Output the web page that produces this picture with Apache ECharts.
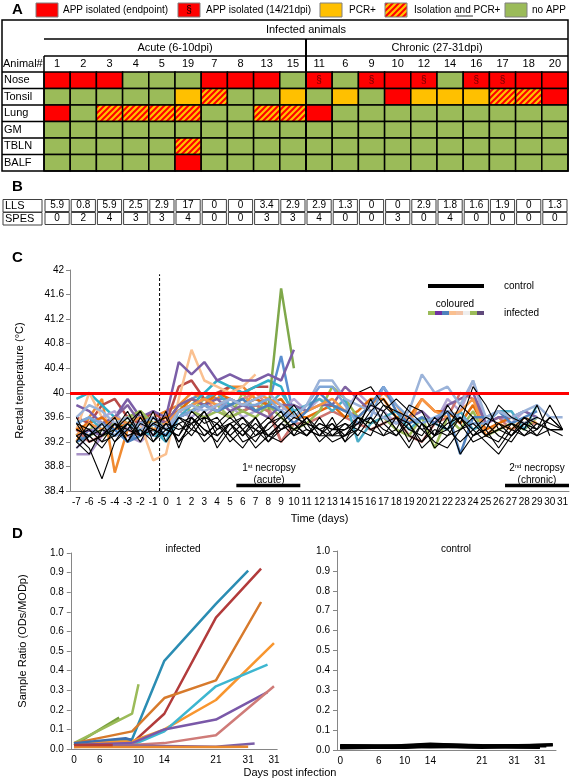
<!DOCTYPE html>
<html><head><meta charset="utf-8">
<script src="https://cdn.jsdelivr.net/npm/echarts@6/dist/echarts.min.js"></script>
<style>html,body{margin:0;padding:0;background:#fff}#c{width:572px;height:780px}</style>
</head><body><div id="c"></div>
<script>
// ---------------- DATA ----------------
const animals = ['1','2','3','4','5','19','7','8','13','15','11','6','9','10','12','14','16','17','18','20'];
const tissues = ['Nose','Tonsil','Lung','GM','TBLN','BALF'];
// 0 no APP, 1 APP isolated (endpoint), 2 APP isolated (14/21dpi), 3 PCR+, 4 isolation and PCR+
const nose   = [1,1,1,0,0,0,1,1,1,0, 2,0,2,1,2,0,2,2,1,1];
const tonsil = [0,0,0,0,0,3,4,0,0,3, 0,3,0,1,3,3,3,4,4,1];
const lung   = [1,0,4,4,4,4,0,0,4,4, 1,0,0,0,0,0,0,0,0,0];
const gm     = [0,0,0,0,0,0,0,0,0,0, 0,0,0,0,0,0,0,0,0,0];
const tbln   = [0,0,0,0,0,4,0,0,0,0, 0,0,0,0,0,0,0,0,0,0];
const balf   = [0,0,0,0,0,1,0,0,0,0, 0,0,0,0,0,0,0,0,0,0];
const scoreRows = ['LLS','SPES'];
const lls  = [5.9,0.8,5.9,2.5,2.9,17,0,0,3.4,2.9, 2.9,1.3,0,0,2.9,1.8,1.6,1.9,0,1.3];
const spes = [0,2,4,3,3,4,0,0,3,3, 4,0,0,3,0,4,0,0,0,0];

const days = ['-7','-6','-5','-4','-3','-2','-1','0','1','2','3','4','5','6','7','8','9','10','11','12','13','14','15','16','17','18','19','20','21','22','23','24','25','26','27','28','29','30','31'];
const tempTicks = {min:38.4, max:42, step:0.4};
// infected, acute group (day -7 .. end)
const a1  = [39.4,40.0,39.6,39.5,39.4,39.5,38.9,39.0,39.9,40.7,40.2,40.1,40.0,40.1,40.3];
const a2  = [39.8,39.7,39.5,39.6,39.9,39.6,39.7,39.6,40.5,40.3,40.5,40.2,40.3,40.2,40.2,40.3,40.2,40.7];
const a3  = [39.3,39.5,39.3,39.4,39.6,39.7,39.4,39.5,39.7,39.9,39.8,39.7,39.8,39.7,39.8,39.7,41.7,40.4];
const a4  = [39.6,39.5,39.8,39.9,39.6,39.5,39.7,39.5,40.1,40.2,39.9,40.0,40.1,40.0,40.1,40.1];
const a5  = [39.9,40.0,39.8,39.6,39.5,39.4,39.3,39.3,39.7,39.8,40.0,40.2,40.1,40.0,40.1,40.2,40.1,39.6];
const a6  = [39.2,39.4,39.3,39.5,39.2,39.4,39.3,39.5,39.8,39.9,40.0,39.9,39.9,39.8,39.9,39.8,40.6,39.6];
const a7  = [39.2,39.6,39.9,38.7,39.4,39.5,39.6,39.7,39.8,40.0,39.9,39.9,40.1,40.1,39.9];
const a8  = [39.4,39.3,39.5,39.3,39.4,39.6,39.5,39.4,39.7,39.8,39.9,39.7,39.8,39.9,40.0,39.8,39.2,39.5];
const a9  = [39.0,39.0,39.3,39.5,39.3,39.2,39.4,39.3,39.6,39.7,39.6,39.8,39.8,39.7,39.8,39.9,39.8,39.7];
const a10 = [39.3,39.4,39.5,39.6,39.5,39.7,39.5,39.5,39.8,39.7,39.9,39.8,39.6,40.0,39.7,39.9];
// infected, chronic group (day -7 .. 31)
const c1  = [39.6,39.8,39.7,39.5,39.6,39.4,39.5,39.4,39.7,39.8,39.7,39.8,39.9,39.8,39.9,40.0,39.8,39.6, 39.8,40.2,40.2,39.9,39.8,39.7,39.6,39.5,39.7,40.3,40.0,40.1,39.8,40.2,39.6,39.7,39.6,39.7,39.8,39.6,39.6];
const c2  = [39.2,39.3,39.5,39.4,39.2,39.3,39.5,39.3,39.6,39.7,39.8,39.7,39.8,39.9,39.7,39.8,39.7,39.5, 39.7,40.0,39.8,39.7,39.6,39.8,40.1,39.7,39.5,39.6,39.5,39.7,39.0,39.6,39.6,39.7,39.5,39.6,39.7];
const c3  = [39.3,39.5,39.4,39.6,39.5,39.6,39.4,39.5,39.7,39.8,39.9,39.8,39.9,39.8,40.0,39.9,39.8,39.6, 39.7,39.8,39.9,39.7,39.6,39.8,40.0,39.8,39.5,39.9,39.7,39.6,39.7,39.9,39.3,39.5,39.4,39.6,39.5];
const c4  = [39.2,39.3,39.4,39.5,39.6,39.7,39.5,39.4,39.6,39.7,39.6,39.7,39.6,39.7,39.6,39.8,39.6,39.4, 39.5,39.7,40.1,39.9,39.6,39.5,39.6,39.4,39.3,39.6,39.1,39.6,39.4,39.7,39.3,39.4,39.5,39.4,39.6];
const c5  = [39.5,39.6,39.4,39.3,39.5,39.6,39.4,39.2,39.6,39.8,39.9,40.0,39.8,39.9,39.7,39.8,40.0,39.7, 39.8,39.9,39.7,39.9,39.2,39.5,39.6,39.7,39.4,39.6,39.5,39.4,39.7,39.4,39.5,39.7,39.7,39.4,39.8];
const c6  = [39.3,39.4,39.3,39.6,39.8,39.5,39.6,39.5,39.8,39.9,39.8,39.9,39.7,39.8,39.7,39.6,39.8,39.8, 39.7,39.8,39.8,40.1,39.9,39.7,39.6,39.5,39.6,39.7,39.5,39.8,39.9,40.0,39.5,39.6,39.6,39.7,39.6];
const c7  = [39.4,39.2,39.3,39.5,39.4,39.3,39.5,39.4,39.6,39.7,39.8,39.7,39.6,39.7,39.8,39.7,39.2,39.5, 39.5,39.6,39.7,39.6,39.5,39.4,39.5,39.6,39.3,39.2,39.5,39.6,40.0,39.9,39.5,39.6,39.4,39.5,39.5];
const c8  = [39.4,39.5,39.6,39.4,39.5,39.6,39.5,39.6,39.7,39.9,39.8,40.0,39.9,39.8,39.9,39.8,39.9,39.6, 39.6,39.7,39.8,39.6,39.7,39.9,39.9,39.6,39.6,39.9,39.7,39.7,39.5,39.8,39.4,39.5,39.6,39.5,39.6];
const c9  = [39.5,39.6,39.5,39.3,39.4,39.5,39.6,39.4,39.6,39.7,39.8,39.7,39.9,39.8,39.8,39.9,39.7,39.6, 39.8,40.1,40.1,39.8,39.5,39.6,40.1,39.8,39.6,39.5,39.6,39.7,39.6,39.5,39.5,39.7,39.6,39.5,39.6];
const c10 = [39.1,39.3,39.6,39.7,39.4,39.5,39.3,39.5,39.7,39.6,39.8,39.7,39.8,39.6,39.7,39.8,39.7,39.9, 39.7,39.9,39.8,39.7,40.0,39.8,39.7,39.5,39.6,39.7,39.5,39.9,39.7,40.2,39.5,39.6,39.5,39.7,39.6];
// controls
const k1  = [39.6,39.2,39.3,39.5,39.2,39.6,39.3,39.7,39.1,39.6,39.4,39.2,39.5,39.3,39.6,39.2,39.5,39.3,39.6,39.3,39.5,39.2,39.6,39.4,39.3,39.6,39.2,39.5,39.3,39.6,39.0,39.3,39.4,39.1,39.4,39.3,39.5,39.4,39.4];
const k2  = [39.3,39.1,38.6,39.2,39.5,39.3,39.7,39.2,39.5,39.6,39.3,39.5,39.2,39.4,39.6,39.3,39.5,39.7,39.4,39.3,39.6,39.2,39.4,39.7,39.9,39.6,39.5,39.2,39.4,39.3,39.6,39.4,39.2,39.0,39.3,39.5,39.3,39.6,39.4];
const k3  = [39.2,39.0,39.4,39.6,39.2,39.5,39.4,39.3,39.6,39.4,39.7,39.3,39.5,39.2,39.3,39.5,39.6,39.4,39.3,39.5,39.4,39.6,40.0,40.1,39.8,39.6,39.3,39.2,39.5,39.7,39.5,40.1,39.8,39.4,39.5,39.3,39.4];
const k4  = [39.4,39.3,39.1,39.4,39.7,39.3,39.5,39.6,39.2,39.5,39.6,39.1,39.4,39.6,39.3,39.4,39.6,39.8,39.5,39.4,39.2,39.3,39.5,39.8,39.7,39.4,39.1,39.5,39.3,39.8,39.5,39.2,39.3,39.4,39.5,39.4,39.8,39.3];
const k5  = [39.5,39.4,39.2,39.3,39.5,39.2,39.6,39.4,39.3,39.7,39.5,39.6,39.3,39.1,39.4,39.6,39.4,39.5,39.3,39.6,39.3,39.3,39.4,39.9,39.5,39.3,39.6,39.4,39.5,39.4,39.8,39.6,39.3,39.2,39.5,39.4,39.3,39.4,39.4];
const k6  = [39.1,39.3,39.5,39.2,39.4,39.7,39.3,39.5,39.2,39.4,39.3,39.5,39.7,39.4,39.1,39.3,39.2,39.4,39.5,39.2,39.4,39.5,39.3,39.6,39.4,39.3,39.5,39.1,39.3,39.4,39.6,39.3,39.5,39.3,39.2,39.5,39.6,39.5,39.4];
const k7  = [39.3,39.4,39.2,39.5,39.3,39.4,39.2,39.4,39.5,39.3,39.6,39.5,39.3,39.5,39.4,39.2,39.4,39.6,39.5,39.4,39.3,39.4,39.6,39.5,39.8,39.7,39.6,39.4,39.2,39.1,39.4,39.6,39.3,39.5,39.4,39.6,39.5,39.4,39.3];
const k8  = [39.2,39.5,39.3,39.4,39.6,39.3,39.4,39.3,39.6,39.5,39.2,39.4,39.6,39.4,39.2,39.5,39.7,39.3,39.4,39.3,39.3,39.5,39.4,39.3,39.7,39.9,39.7,39.5,39.1,39.3,39.4,39.5,39.3,39.4,39.3,39.6,39.4];
const k9  = [39.4,39.3,39.4,39.3,39.5,39.7,39.2,39.5,39.4,39.5,39.7,39.4,39.5,39.3,39.5,39.3,39.4,39.5,39.3,39.5,39.4,39.4,39.5,39.6,39.3,39.4,39.8,39.7,39.3,39.5,39.6,39.3,39.4,39.8,39.6,39.5,39.4,39.8,39.4];
const k10 = [39.5,39.2,39.3,39.5,39.4,39.3,39.5,39.4,39.3,39.6,39.4,39.3,39.5,39.6,39.4,39.3,39.5,39.4,39.6,39.4,39.5,39.3,39.6,39.4,39.5,39.6,39.4,39.3,39.6,39.4,39.2,39.4,39.6,39.5,39.3,39.5,39.4,39.6,39.4];
const necropsy1 = [5.5, 10.5];
const necropsy2 = [26.5, 31.5];
const challengeDay = -0.5;
const threshold = 40;

// panel D: sampling axis (category index, ratio)
const dLabelsInf = ['0','','','','6','','','','','','10','','','','14','','','','','','','','21','','','','','31','','','','31'];
const dLabelsCtl = ['0','','','','','','6','','','','10','','','','14','','','','','','','','21','','','','','31','','','','31','',''];
const dInf = [
  {c:'#77A03C', d:[[0,0.02],[7,0.16]]},
  {c:'#9BBB59', d:[[0,0.03],[9,0.18],[10,0.33]]},
  {c:'#2B8DB3', d:[[0,0.02],[9,0.05],[14,0.45],[22,0.74],[27,0.91]]},
  {c:'#B23B3B', d:[[0,0.02],[9,0.03],[14,0.18],[22,0.67],[29,0.92]]},
  {c:'#D77A2C', d:[[0,0.03],[9,0.09],[14,0.26],[22,0.35],[29,0.75]]},
  {c:'#F8962F', d:[[0,0.03],[9,0.04],[14,0.10],[22,0.25],[31,0.54]]},
  {c:'#3DB6D0', d:[[0,0.02],[9,0.02],[14,0.09],[22,0.32],[30,0.43]]},
  {c:'#7A58A8', d:[[0,0.02],[9,0.03],[14,0.10],[22,0.15],[30,0.29]]},
  {c:'#CF7B78', d:[[0,0.01],[9,0.02],[14,0.03],[22,0.07],[31,0.32]]},
  {c:'#7B5EA7', d:[[0,0.02],[14,0.015],[22,0.012],[28,0.028]]},
  {c:'#E8892E', d:[[0,0.01],[22,0.01],[27,0.012]]},
  {c:'#3C6FB0', d:[[0,0.03],[8,0.055],[9,0.045]]},
  {c:'#B23B3B', d:[[0,0.02],[6,0.02]]}
];
const dCtl = [
  [[0,0.02],[8,0.02],[14,0.03],[22,0.02],[33,0.025]],
  [[0,0.015],[8,0.012],[14,0.02],[22,0.015],[31,0.012]],
  [[0,0.01],[10,0.015],[14,0.025],[22,0.02],[32,0.02]],
  [[0,0.02],[6,0.018],[14,0.015],[22,0.018],[31,0.015]],
  [[0,0.018],[10,0.012],[14,0.02],[22,0.012],[33,0.028]],
  [[0,0.012],[8,0.02],[14,0.018],[22,0.02],[30,0.02]],
  [[0,0.022],[10,0.02],[14,0.028],[22,0.022],[31,0.02]]
];

// ---------------- RENDER ----------------
const FONT = '"Liberation Sans", Arial, sans-serif';
const chart = echarts.init(document.getElementById('c'), null, {renderer:'canvas'});

function makeHatch(){
  const n=6, c=document.createElement('canvas'); c.width=n; c.height=n;
  const g=c.getContext('2d'); g.fillStyle='#FFC000'; g.fillRect(0,0,n,n);
  g.strokeStyle='#FF0000'; g.lineWidth=2; g.beginPath();
  for(let k=-1;k<=1;k++){ g.moveTo(k*n-1, n+1); g.lineTo(k*n+n+1, -1); }
  g.stroke(); return c;
}
const hatch = makeHatch();
const fills = ['#9BBB59','#FF0000','#FF0000','#FFC000',{image:hatch, repeat:'repeat'}];

const statusRows=[nose,tonsil,lung,gm,tbln,balf];
const cellData=[]; statusRows.forEach((row,r)=>row.forEach((s,c)=>cellData.push([c,r,s])));
const scoreData=[]; [lls,spes].forEach((row,r)=>row.forEach((v,c)=>scoreData.push([c,r,v])));

const G=[];
function txt(x,y,text,o={}){ G.push({type:'text', x, y, rotation:o.rot||0, z:10, style:{text, fill:'#000', font:(o.bold?'bold ':'')+(o.size||11)+'px '+FONT, align:o.align||'left', verticalAlign:o.va||'middle', rich:o.rich}}); }
function ln(x1,y1,x2,y2,lw,col){ G.push({type:'line', z:10, shape:{x1,y1,x2,y2}, style:{stroke:col||'#000', lineWidth:lw||1}}); }
function rc(x,y,w,h,fill,stroke,lw){ G.push({type:'rect', z:10, shape:{x,y,width:w,height:h}, style:{fill, stroke, lineWidth:lw||1}}); }

// panel letters
txt(12,10,'A',{bold:true,size:15}); txt(12,187,'B',{bold:true,size:15});
txt(12,258,'C',{bold:true,size:15}); txt(12,534,'D',{bold:true,size:15});
// legend A
rc(36,3,22,14,'#FF0000','#808080'); txt(63,10,'APP isolated (endpoint)',{size:10});
rc(178,3,22,14,'#FF0000','#808080'); txt(189,10,'§',{align:'center',size:10}); txt(206,10,'APP isolated (14/21dpi)',{size:10});
rc(320,3,22,14,'#FFC000','#808080'); txt(349,10,'PCR+',{size:10});
rc(385,3,22,14,{image:hatch,repeat:'repeat'},'#808080'); txt(414,10,'Isolation and PCR+',{size:10}); ln(456,16,473,16,0.8);
rc(505,3,22,14,'#9BBB59','#808080'); txt(532,10,'no APP',{size:10});
// table A frame
const TA={l:44,t:72,w:524,h:99}; const rowH=TA.h/6;
rc(2,20,TA.l+TA.w-2,TA.t+TA.h-20,null,'#000',1.5);
txt(306,30,'Infected animals',{align:'center'});
ln(TA.l,39,TA.l+TA.w,39,1.5);
txt(175,48,'Acute (6-10dpi)',{align:'center'}); txt(437,48,'Chronic (27-31dpi)',{align:'center'});
ln(TA.l,56,TA.l+TA.w,56,1.5);
ln(2,TA.t,TA.l,TA.t,1.5);
ln(TA.l,56,TA.l,TA.t+TA.h,1.5);
ln(TA.l+TA.w/2,39,TA.l+TA.w/2,TA.t+TA.h,2);
txt(3,64,'Animal#');
for(let r=1;r<6;r++) ln(2,TA.t+r*rowH,TA.l,TA.t+r*rowH,1.5);
// table B label cells
rc(3,199.5,39,12.5,null,'#404040',1); rc(3,212.5,39,12.5,null,'#404040',1);
// panel C legend
rc(428,284,56,4,'#000'); txt(504,286,'control',{size:10});
txt(455,304,'coloured',{align:'center',size:10});
['#9BBB59','#7030A0','#4F81BD','#FAC090','#F2C4A8','#EEEEEE','#9BBB59','#604A7B'].forEach((c,i)=>rc(428+i*7,311,7,4,c));
txt(504,313,'infected',{size:10});
// necropsy labels
const rich={n:{fontSize:10,fontFamily:FONT},s:{fontSize:6,fontFamily:FONT,verticalAlign:'top',padding:[0,0,4,0]}};
txt(269,468,'{n|1}{s|st}{n| necropsy}',{align:'center',rich});
txt(269,480,'(acute)',{align:'center',size:10});
txt(537,468,'{n|2}{s|nd}{n| necropsy}',{align:'center',rich});
txt(537,480,'(chronic)',{align:'center',size:10});
// D texts
txt(183,549,'infected',{align:'center',size:10}); txt(456,549,'control',{align:'center',size:10});
txt(290,773,'Days post infection',{align:'center',size:11});

const axisGray='#868686';
const baseGrid={containLabel:false, outerBoundsMode:'none'};
const grids=[
  Object.assign({left:TA.l, top:TA.t, width:TA.w, height:TA.h},baseGrid),
  Object.assign({left:44, top:199, width:524, height:26},baseGrid),
  Object.assign({left:70, top:270, width:499, height:221},baseGrid),
  Object.assign({left:70.8, top:553, width:206.4, height:196},baseGrid),
  Object.assign({left:337, top:551, width:219, height:199},baseGrid)
];
const lbl={color:'#000', fontFamily:FONT};
const xAxes=[
  {gridIndex:0,type:'category',data:animals,position:'top',axisLine:{show:false},axisTick:{show:false},axisLabel:Object.assign({fontSize:11,margin:3,interval:0},lbl)},
  {gridIndex:1,type:'category',data:animals,show:false},
  {gridIndex:2,type:'category',data:days,axisLine:{onZero:false,lineStyle:{color:axisGray}},axisTick:{lineStyle:{color:axisGray},length:4},axisLabel:Object.assign({fontSize:10,margin:6,interval:0},lbl),name:'Time (days)',nameLocation:'middle',nameGap:22,nameTextStyle:{fontSize:11,color:'#000',fontFamily:FONT}},
  {gridIndex:2,type:'value',min:-7.5,max:31.5,show:false},
  {gridIndex:3,type:'category',data:dLabelsInf.map((l,i)=>String(i)),axisLine:{onZero:false,lineStyle:{color:axisGray}},axisTick:{interval:0,lineStyle:{color:axisGray},length:3},axisLabel:Object.assign({fontSize:10,margin:6,interval:0,formatter:(v,i)=>dLabelsInf[i]},lbl)},
  {gridIndex:4,type:'category',data:dLabelsCtl.map((l,i)=>String(i)),axisLine:{onZero:false,lineStyle:{color:axisGray}},axisTick:{interval:0,lineStyle:{color:axisGray},length:3},axisLabel:Object.assign({fontSize:10,margin:6,interval:0,formatter:(v,i)=>dLabelsCtl[i]},lbl)}
];
const yAxes=[
  {gridIndex:0,type:'category',data:tissues,inverse:true,axisLine:{show:false},axisTick:{show:false},axisLabel:Object.assign({fontSize:11,align:'left',margin:40,interval:0},lbl)},
  {gridIndex:1,type:'category',data:scoreRows,inverse:true,axisLine:{show:false},axisTick:{show:false},axisLabel:Object.assign({fontSize:11,align:'left',margin:39,interval:0,hideOverlap:false},lbl)},
  {gridIndex:2,type:'value',min:tempTicks.min,max:tempTicks.max,interval:tempTicks.step,splitLine:{show:false},axisLine:{show:true,onZero:false,lineStyle:{color:axisGray}},axisTick:{show:true,lineStyle:{color:axisGray},length:4},axisLabel:Object.assign({fontSize:10,margin:6,formatter:v=>String(+v.toFixed(1))},lbl),name:'Rectal temperature (°C)',nameLocation:'middle',nameGap:45,nameTextStyle:{fontSize:11,color:'#000',fontFamily:FONT}},
  {gridIndex:3,type:'value',min:0,max:1,interval:0.1,splitLine:{show:false},axisLine:{show:true,onZero:false,lineStyle:{color:axisGray}},axisTick:{show:true,lineStyle:{color:axisGray},length:4},axisLabel:Object.assign({fontSize:10,margin:7,formatter:v=>v.toFixed(1)},lbl),name:'Sample Ratio (ODs/MODp)',nameLocation:'middle',nameGap:42,nameTextStyle:{fontSize:11,color:'#000',fontFamily:FONT,padding:[0,0,0,20]}},
  {gridIndex:4,type:'value',min:0,max:1,interval:0.1,splitLine:{show:false},axisLine:{show:true,onZero:false,lineStyle:{color:axisGray}},axisTick:{show:true,lineStyle:{color:axisGray},length:4},axisLabel:Object.assign({fontSize:10,margin:7,formatter:v=>v.toFixed(1)},lbl)}
];

const series=[];
series.push({type:'custom',xAxisIndex:0,yAxisIndex:0,data:cellData,silent:true,renderItem:(p,api)=>{
  const pt=api.coord([api.value(0),api.value(1)]), sz=api.size([1,1]), s=api.value(2);
  const ch=[{type:'rect',shape:{x:pt[0]-sz[0]/2,y:pt[1]-sz[1]/2,width:sz[0],height:sz[1]},style:{fill:fills[s],stroke:'#000',lineWidth:1.5}}];
  if(s===2) ch.push({type:'text',x:pt[0],y:pt[1],style:{text:'§',align:'center',verticalAlign:'middle',fill:'#6B0000',font:'10px '+FONT}});
  return {type:'group',children:ch};
}});
series.push({type:'custom',xAxisIndex:1,yAxisIndex:1,data:scoreData,silent:true,renderItem:(p,api)=>{
  const pt=api.coord([api.value(0),api.value(1)]), sz=api.size([1,1]), v=api.value(2);
  return {type:'group',children:[
    {type:'rect',shape:{x:pt[0]-sz[0]/2+1,y:pt[1]-sz[1]/2+0.5,width:sz[0]-2,height:sz[1]-1},style:{fill:'#fff',stroke:'#404040',lineWidth:1}},
    {type:'text',x:pt[0],y:pt[1],style:{text:String(v),align:'center',verticalAlign:'middle',fill:'#000',font:'10px '+FONT}}
  ]};
}});
const tLine=(data,color,w,z)=>({type:'line',xAxisIndex:2,yAxisIndex:2,data,symbol:'none',silent:true,z:z||2,lineStyle:{color,width:w},connectNulls:false});
[[a9,'#A994C8'],[a10,'#A5C26B'],[a8,'#D98C8A'],[a6,'#5B8FD0'],[a7,'#F08A30'],[a4,'#B84A47'],[a5,'#2FB0C8'],[a1,'#FAC090'],[a3,'#7FA84A'],[a2,'#7B5EA7']]
  .forEach(([d,c])=>series.push(tLine(d,c,2.5,2)));
[[c10,'#B4A7D6'],[c7,'#CD7470'],[c8,'#E46C0A'],[c4,'#9BBB59'],[c5,'#4BACC6'],[c6,'#8064A2'],[c3,'#F79646'],[c2,'#4F81BD'],[c9,'#7FA6D8'],[c1,'#9BB3D9']]
  .forEach(([d,c])=>series.push(tLine(d,c,2.5,2)));
[k1,k2,k3,k4,k5,k6,k7,k8,k9,k10].forEach(d=>series.push(tLine(d,'#000',1.1,3)));
// threshold, challenge line and necropsy bars
series.push({type:'line',xAxisIndex:3,yAxisIndex:2,data:[[challengeDay,tempTicks.min],[challengeDay,41.93]],symbol:'none',silent:true,z:4,lineStyle:{color:'#000',width:1,type:[3,2]},
  markLine:{symbol:'none',silent:true,label:{show:false},lineStyle:{color:'#FF0000',width:3,type:'solid'},data:[{yAxis:threshold}]}});
[necropsy1,necropsy2].forEach(n=>series.push({type:'line',xAxisIndex:3,yAxisIndex:2,data:[[n[0],38.49],[n[1],38.49]],symbol:'none',silent:true,z:4,lineStyle:{color:'#000',width:3.5}}));
// panel D
dInf.forEach(s=>series.push({type:'line',xAxisIndex:4,yAxisIndex:3,data:s.d,symbol:'none',silent:true,lineStyle:{color:s.c,width:2.5}}));
dCtl.forEach(d=>series.push({type:'line',xAxisIndex:5,yAxisIndex:4,data:d,symbol:'none',silent:true,lineStyle:{color:'#000',width:3}}));

chart.setOption({animation:false,textStyle:{fontFamily:FONT},grid:grids,xAxis:xAxes,yAxis:yAxes,series,graphic:G});
</script></body></html>
